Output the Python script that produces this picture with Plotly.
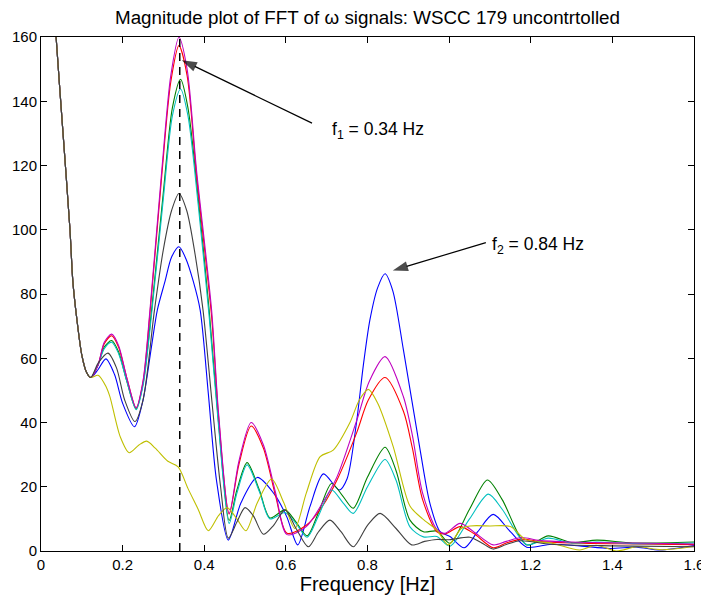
import plotly.graph_objects as go

# Shared low-frequency lobe (all machines coincide below ~0.12 Hz)
freq_common = [0.0, 0.02, 0.037, 0.054, 0.071, 0.078, 0.088, 0.10, 0.112]
mag_common = [235, 195, 160, 130, 100, 84, 72, 61, 55.5]

# Blue
freq_b = [0.122, 0.14, 0.159, 0.18, 0.20, 0.229, 0.25, 0.27, 0.285, 0.304, 0.32, 0.338, 0.355, 0.373,
          0.39, 0.41, 0.43, 0.459, 0.49, 0.53, 0.57, 0.602, 0.629, 0.659, 0.692, 0.731, 0.75, 0.772,
          0.79, 0.806, 0.825, 0.843, 0.862, 0.888, 0.929, 0.953, 0.978, 1.002, 1.037, 1.07, 1.108,
          1.15, 1.19, 1.25, 1.32, 1.394, 1.46, 1.517, 1.6]
mag_b = [54, 56.5, 59.8, 55, 46, 38.7, 47, 63, 75, 84, 91.5, 94.7, 91, 84,
         75, 49, 22, 3.4, 15, 22.9, 18, 10.7, 1.9, 13.8, 24, 19, 22.5, 39,
         58, 72, 82, 86.3, 81, 62.6, 31.4, 14.8, 6, 4.5, 1.0, 6, 11.4,
         6, 1.2, 2.1, 1.6, 0.8, 1.2, 0.3, 1.7]

# Green
freq_g = [0.122, 0.14, 0.155, 0.173, 0.19, 0.21, 0.233, 0.25, 0.271, 0.30, 0.322, 0.342, 0.36, 0.385,
          0.412, 0.435, 0.461, 0.48, 0.505, 0.535, 0.561, 0.598, 0.625, 0.652, 0.68, 0.712, 0.74,
          0.765, 0.80, 0.843, 0.87, 0.904, 0.937, 0.97, 1.002, 1.05, 1.094, 1.13, 1.19, 1.243,
          1.30, 1.362, 1.45, 1.6]
mag_g = [54, 58, 63.5, 65.5, 62, 53, 44.2, 52, 75, 112, 138, 146.8, 138, 110,
         75, 40, 9.5, 19, 27.5, 19, 10.3, 12.8, 9, 4.7, 12, 21, 17,
         13.3, 23, 32.3, 25, 9.6, 6, 6.2, 2.4, 13, 22.1, 16, 1.9, 4.7,
         2.6, 3.4, 2.5, 2.8]

# Red
freq_r = [0.122, 0.14, 0.155, 0.173, 0.19, 0.21, 0.233, 0.25, 0.267, 0.296, 0.318, 0.338, 0.358, 0.381,
          0.418, 0.435, 0.461, 0.485, 0.515, 0.545, 0.575, 0.603, 0.65, 0.69, 0.725, 0.774, 0.802,
          0.843, 0.888, 0.91, 0.935, 0.97, 0.99, 1.027, 1.06, 1.108, 1.14, 1.178, 1.22, 1.30, 1.45, 1.6]
mag_r = [54, 58, 64.5, 67, 63.5, 54, 44.5, 52.5, 74, 117, 146, 157.3, 148, 117,
         73, 42, 11.5, 27, 38.9, 32, 17, 5.5, 8, 14, 22, 37, 47,
         54, 43.5, 32, 16, 6, 5.3, 7.6, 5.5, 1.0, 2.5, 3.7, 3, 2.5, 2.2, 2.0]

# Cyan
freq_c = [0.122, 0.14, 0.155, 0.173, 0.19, 0.21, 0.233, 0.25, 0.272, 0.30, 0.322, 0.342, 0.36, 0.385,
          0.412, 0.435, 0.461, 0.48, 0.505, 0.535, 0.561, 0.598, 0.625, 0.652, 0.68, 0.712, 0.74,
          0.765, 0.80, 0.843, 0.87, 0.904, 0.937, 0.97, 1.002, 1.05, 1.096, 1.13, 1.19, 1.243,
          1.30, 1.362, 1.45, 1.6]
mag_c = [54, 58, 63, 65, 61.5, 53, 44, 51.5, 75, 110, 135.5, 143.8, 135.5, 108,
         73, 39, 8.6, 18, 26.8, 18.5, 10, 12, 8.5, 4.3, 11, 19, 15,
         11.7, 20, 28.5, 22, 7.5, 4.4, 4.5, 1.5, 10, 17.7, 13, 2, 4.0,
         2.5, 2.8, 2.3, 2.5]

# Magenta
freq_m = [0.122, 0.14, 0.155, 0.173, 0.19, 0.21, 0.233, 0.25, 0.267, 0.296, 0.318, 0.338, 0.358, 0.381,
          0.418, 0.435, 0.461, 0.485, 0.515, 0.545, 0.575, 0.603, 0.65, 0.69, 0.725, 0.774, 0.805,
          0.843, 0.888, 0.91, 0.935, 0.97, 0.99, 1.027, 1.06, 1.108, 1.14, 1.178, 1.22, 1.30, 1.45, 1.6]
mag_m = [54, 58, 65, 67.5, 64, 54, 44.6, 53, 75, 118.6, 148, 159.9, 150, 118.6,
         75, 43, 11.7, 28, 40, 33, 18, 5.1, 7.6, 15, 23, 40.8, 53,
         60.5, 48, 36, 18, 6.7, 5.5, 8.6, 6, 1.9, 3, 4.2, 3.3, 2.8, 2.5, 2.2]

# Yellow
freq_y = [0.122, 0.14, 0.16, 0.169, 0.194, 0.216, 0.24, 0.259, 0.28, 0.31, 0.336, 0.36, 0.385, 0.41,
          0.435, 0.456, 0.48, 0.502, 0.53, 0.565, 0.595, 0.622, 0.65, 0.684, 0.716, 0.757, 0.78,
          0.802, 0.825, 0.863, 0.904, 0.935, 0.97, 0.998, 1.03, 1.051, 1.10, 1.15, 1.19, 1.25,
          1.32, 1.36, 1.41, 1.46, 1.52, 1.6]
mag_y = [54, 54.7, 51, 48, 35.6, 30.6, 33, 34.2, 32, 28, 26.2, 19.5, 13, 6.3,
         11, 13.5, 10, 6.3, 15, 22.4, 15, 7, 18, 29.4, 31.4, 40, 47,
         50.3, 46, 32.5, 14, 10, 6.5, 1.9, 7, 7.8, 7.8, 7.6, 3.4, 2.5,
         0.3, 1.8, 0, 1.3, 0.4, 1.4]

# Black
freq_k = [0.122, 0.14, 0.164, 0.185, 0.205, 0.23, 0.25, 0.278, 0.30, 0.32, 0.338, 0.357, 0.378, 0.397,
          0.42, 0.44, 0.459, 0.48, 0.50, 0.52, 0.545, 0.57, 0.598, 0.625, 0.655, 0.68, 0.708, 0.735,
          0.765, 0.80, 0.831, 0.87, 0.908, 0.94, 0.97, 1.0, 1.051, 1.08, 1.108, 1.14, 1.174, 1.25,
          1.40, 1.6]
mag_k = [54, 58.5, 61.6, 57, 47, 40.3, 47, 75, 94, 106, 111.3, 106, 92, 75,
         45, 20, 4, 9, 13.5, 11, 5.2, 8, 12.8, 7, 1.3, 6, 9.6, 6,
         1.3, 8, 11.7, 7, 1.9, 3, 3.6, 3.5, 4.3, 2.5, 0.6, 2, 3.2, 2.1,
         1.6, 1.3]

series = [
    (freq_b, mag_b, "rgb(0,0,255)"),
    (freq_g, mag_g, "rgb(0,128,0)"),
    (freq_r, mag_r, "rgb(255,0,0)"),
    (freq_c, mag_c, "rgb(0,191,191)"),
    (freq_m, mag_m, "rgb(191,0,191)"),
    (freq_y, mag_y, "rgb(191,191,0)"),
    (freq_k, mag_k, "rgb(64,64,64)"),
]

# Mode frequencies marked on the plot, with their pointer arrows (tail -> tip)
f1, f2 = 0.34, 0.84
arrow1_x, arrow1_y = [0.664, f1 + 0.005], [133.2, 152.8]
arrow2_x, arrow2_y = [1.09, f2 + 0.022], [96.0, 87.3]

font_family = "Liberation Sans, Arial, Helvetica, sans-serif"

fig = go.Figure()
for fr, mg, col in series:
    fig.add_trace(go.Scatter(
        x=freq_common + fr, y=mag_common + mg, mode="lines",
        line=dict(color=col, width=1.1, shape="spline", smoothing=0.8),
        showlegend=False, hoverinfo="skip"))

# Dashed marker at the first mode frequency
fig.add_trace(go.Scatter(x=[f1, f1], y=[0, 160], mode="lines",
                         line=dict(color="black", width=1.5, dash="8px,6px"),
                         showlegend=False, hoverinfo="skip"))

# Pointer arrows: a line with an arrow-shaped marker at the tip
for ax_, ay_ in [(arrow1_x, arrow1_y), (arrow2_x, arrow2_y)]:
    fig.add_trace(go.Scatter(
        x=ax_, y=ay_, mode="lines+markers",
        line=dict(color="black", width=1.2),
        marker=dict(symbol=["circle", "arrow"], size=[0, 16], angleref="previous",
                    color="black", line=dict(width=0)),
        showlegend=False, hoverinfo="skip", cliponaxis=False))

fig.add_annotation(x=0.708, y=131.0, xref="x", yref="y", xanchor="left", yanchor="middle",
                   text="f<sub>1</sub> = %.2f Hz" % f1, showarrow=False,
                   font=dict(size=17.5, color="black", family=font_family))
fig.add_annotation(x=1.10, y=95.0, xref="x", yref="y", xanchor="left", yanchor="middle",
                   text="f<sub>2</sub> = %.2f Hz" % f2, showarrow=False,
                   font=dict(size=17.5, color="black", family=font_family))

axis_common = dict(showline=True, linecolor="black", linewidth=1, mirror="ticks",
                   ticks="inside", ticklen=6, tickcolor="black", showgrid=False,
                   zeroline=False, ticklabeloverflow="allow", automargin=False,
                   tickfont=dict(size=15, color="black", family=font_family))

fig.update_layout(
    width=701, height=600,
    margin=dict(l=41, r=7, t=37, b=49),
    paper_bgcolor="white", plot_bgcolor="white",
    font=dict(family=font_family, color="black"),
    title=dict(text="Magnitude plot of FFT of \u03c9 signals: WSCC 179 uncontrtolled",
               x=0.5, xref="paper", y=1 - 17 / 600, yref="container",
               xanchor="center", yanchor="middle",
               font=dict(size=18.8, color="black", family=font_family)),
    xaxis=dict(range=[0, 1.6], tickvals=[0, 0.2, 0.4, 0.6, 0.8, 1.0, 1.2, 1.4, 1.6],
               ticktext=["0", "0.2", "0.4", "0.6", "0.8", "1", "1.2", "1.4", "1.6"],
               title=dict(text="Frequency [Hz]", standoff=1,
                          font=dict(size=20, color="black", family=font_family)),
               **axis_common),
    yaxis=dict(range=[0, 160], tickvals=[0, 20, 40, 60, 80, 100, 120, 140, 160],
               **axis_common),
)

fig.write_html("out.html")
